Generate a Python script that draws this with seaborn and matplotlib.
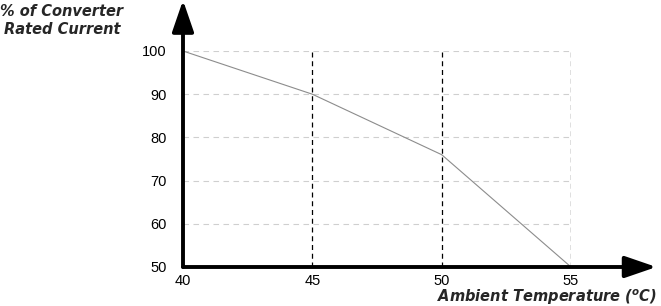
import matplotlib
matplotlib.use("Agg")
import matplotlib.pyplot as plt
import seaborn as sns
import pandas as pd

temps = [40, 45, 50, 55]
current = [100, 90, 76, 50]
x_ticks = [40, 45, 50, 55]
y_ticks = [50, 60, 70, 80, 90, 100]
grid_y = [60, 70, 80, 90, 100]
vlines_x = [45, 50, 55]

sns.set_theme(style="white")
plt.rcParams['font.family'] = ['Liberation Sans', 'DejaVu Sans']
plt.rcParams['mathtext.fontset'] = 'custom'
plt.rcParams['mathtext.bf'] = 'DejaVu Sans:bold:italic'
plt.rcParams['mathtext.rm'] = 'DejaVu Sans'

fig = plt.figure(figsize=(6.61, 3.06), dpi=100)
ax = fig.add_axes([183/661, 39/306, 388/661, 216/306])

df = pd.DataFrame({"temp": temps, "cur": current})

for gy in grid_y:
    ax.plot([40, 55], [gy, gy], color="#cfcfcf", lw=0.8, ls=(0, (5, 4)), zorder=1)
for vx in vlines_x:
    ax.plot([vx, vx], [50, 100], color="black", lw=0.9, ls=(0, (4, 3)), zorder=2)

sns.lineplot(data=df, x="temp", y="cur", ax=ax, color="#8c8c8c", lw=0.8, zorder=3)

ax.set_xlim(40, 55)
ax.set_ylim(50, 100)
ax.set_xticks(x_ticks)
ax.set_yticks(y_ticks)
ax.tick_params(axis='both', length=0, labelsize=10.5, colors="black")
ax.tick_params(axis='x', pad=5)
ax.tick_params(axis='y', pad=12)
for s in ax.spines.values():
    s.set_visible(False)
ax.set_xlabel("")
ax.set_ylabel("")

# axis arrows
ax.annotate("", xy=(1.22, 0), xytext=(0, 0), xycoords='axes fraction',
            textcoords='axes fraction',
            arrowprops=dict(arrowstyle="-|>,head_length=1.6,head_width=0.55",
                            color="black", lw=2.8, shrinkA=0, shrinkB=0),
            annotation_clip=False)
ax.annotate("", xy=(0, 1.235), xytext=(0, 0), xycoords='axes fraction',
            textcoords='axes fraction',
            arrowprops=dict(arrowstyle="-|>,head_length=1.6,head_width=0.55",
                            color="black", lw=2.8, shrinkA=0, shrinkB=0),
            annotation_clip=False)

title_font = dict(family="DejaVu Sans", fontsize=10.5, fontweight="bold", fontstyle="italic")
fig.text(62/661, 1 - 11/306, "% of Converter", ha="center", va="center", **title_font)
fig.text(62/661, 1 - 29/306, "Rated Current", ha="center", va="center", **title_font)
fig.text(657/661, 1 - 297/306, r"Ambient Temperature ($^\mathbf{o}$C)", ha="right",
         va="center", family="DejaVu Sans", fontsize=10.5, fontweight="bold",
         fontstyle="italic")

fig.savefig("out.png", dpi=100)
